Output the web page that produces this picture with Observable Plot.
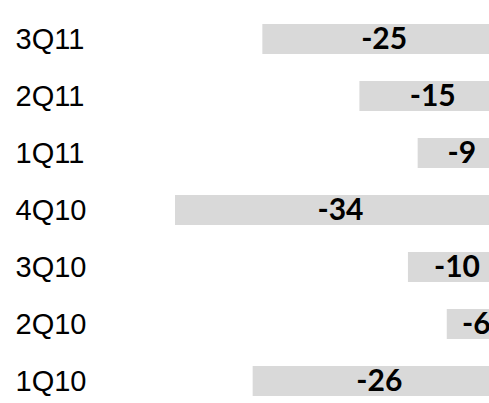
<!DOCTYPE html>
<html>
<head>
<meta charset="utf-8">
<script src="https://cdn.jsdelivr.net/npm/d3@7"></script>
<script src="https://cdn.jsdelivr.net/npm/@observablehq/plot@0.6"></script>
<style>
  html, body { margin: 0; padding: 0; background: #fff; overflow: hidden; }
</style>
</head>
<body>
<div id="chart"></div>
<script>
const categories = ["3Q11", "2Q11", "1Q11", "4Q10", "3Q10", "2Q10", "1Q10"];
const values = [-25, -15, -9, -34, -10, -6, -26];

const data = categories.map((c, i) => ({quarter: c, value: values[i]}));

const chart = Plot.plot({
  width: 489,
  height: 403,
  marginLeft: 0,
  marginRight: 0,
  marginTop: 0,
  marginBottom: 0,
  x: {domain: [-34, 0], range: [175, 505], axis: null},
  y: {domain: categories, range: [24, 397], paddingInner: 0.465, paddingOuter: 0, axis: null},
  marks: [
    Plot.barX(data, {x1: 0, x2: "value", y: "quarter", fill: "#d9d9d9"}),
    Plot.text(data, {
      x: d => d.value / 2,
      y: "quarter",
      text: d => String(d.value),
      fontFamily: "Lato",
      fontWeight: "bold",
      fontSize: 30,
      fill: "#000"
    }),
    Plot.text(data, {
      y: "quarter",
      text: "quarter",
      frameAnchor: "left",
      dx: 15,
      textAnchor: "start",
      fontFamily: "Liberation Sans",
      fontSize: 29,
      fill: "#000"
    })
  ]
});
document.getElementById("chart").appendChild(chart);
</script>
</body>
</html>
